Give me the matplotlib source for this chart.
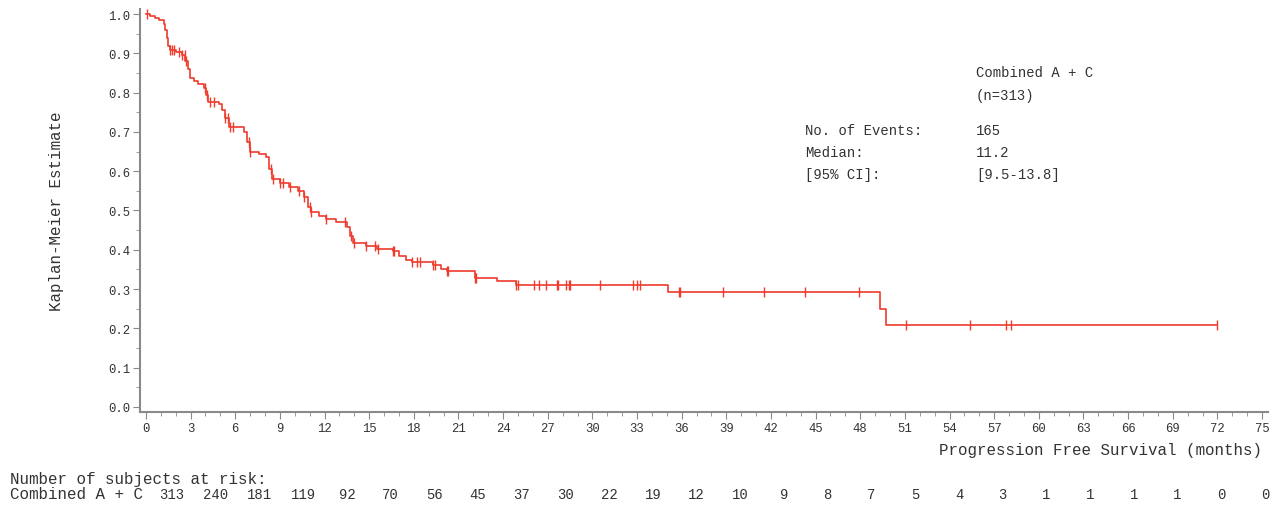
import numpy as np
import matplotlib
matplotlib.use('Agg')
import matplotlib.pyplot as plt
from matplotlib.ticker import MultipleLocator

# ── DATA ─────────────────────────────────────────────────────────────────
# KM step points: time (months) and survival after that time
step_t = [0.0, 0.3, 0.6, 0.9, 1.2, 1.3, 1.4, 1.5, 1.6, 2.0, 2.4, 2.65, 2.8, 2.95,
          3.2, 3.5, 3.9, 4.05, 4.2, 4.9, 5.1, 5.3, 5.6, 6.6, 6.8, 7.0, 7.6, 8.1,
          8.3, 8.5, 9.0, 9.6, 10.2, 10.6, 10.9, 11.1, 11.6, 12.1, 12.8, 13.5,
          13.7, 13.9, 14.8, 15.5, 16.6, 17.0, 17.5, 17.9, 19.3, 19.8, 20.2,
          22.1, 23.6, 24.9, 35.1, 49.3, 49.7]
step_s = [1.0, 0.995, 0.99, 0.985, 0.975, 0.96, 0.94, 0.92, 0.908, 0.903, 0.895,
          0.88, 0.86, 0.838, 0.83, 0.822, 0.812, 0.795, 0.776, 0.77, 0.755, 0.735,
          0.712, 0.70, 0.675, 0.648, 0.645, 0.635, 0.605, 0.58, 0.57, 0.56, 0.55,
          0.535, 0.51, 0.495, 0.487, 0.478, 0.47, 0.458, 0.435, 0.418, 0.41,
          0.402, 0.396, 0.385, 0.375, 0.368, 0.36, 0.35, 0.345, 0.327, 0.32,
          0.311, 0.292, 0.249, 0.209]
last_t = 71.95

censor_t = [0.05, 1.6, 1.75, 1.9, 2.2, 2.4, 2.6, 2.7, 4.0, 4.1, 4.3, 4.6, 5.3, 5.5,
            5.65, 5.85, 6.9, 7.0, 8.4, 8.55, 9.0, 9.2, 9.7, 10.3, 10.6, 11.0,
            11.1, 12.1, 13.4, 13.8, 13.95, 14.8, 15.4, 15.6, 16.6, 16.7, 17.9,
            18.2, 18.4, 19.3, 19.4, 20.2, 20.3, 22.1, 22.15, 24.9, 25.0, 26.1,
            26.4, 26.9, 27.6, 27.7, 28.2, 28.4, 28.5, 30.5, 32.7, 33.0, 33.2,
            35.8, 35.9, 38.75, 41.5, 44.3, 47.9, 51.1, 55.4, 57.8, 58.1, 71.95]

risk_times = list(range(0, 76, 3))
risk_n = [313, 240, 181, 119, 92, 70, 56, 45, 37, 30, 22, 19, 12, 10, 9, 8, 7,
          5, 4, 3, 1, 1, 1, 1, 0, 0]

# ── STYLE ────────────────────────────────────────────────────────────────
RED = '#ef3b2c'
TXT = '#333333'
SPINE = '#8a8a8a'
FONT = 'Liberation Mono'
plt.rcParams['font.family'] = [FONT, 'DejaVu Sans Mono']

W, H = 1280, 506
fig = plt.figure(figsize=(W / 100, H / 100), dpi=100)
fig.patch.set_facecolor('white')

def px(x, y):
    return x / W, 1 - y / H

ax = fig.add_axes([140 / W, 1 - 413 / H, (1268 - 140) / W, (413 - 10) / H])

# curve
t_plot = np.array(step_t + [last_t])
s_plot = np.array(step_s + [step_s[-1]])
ax.plot(t_plot, s_plot, drawstyle='steps-post', color=RED, lw=1.2)

# censor marks at the curve's value
idx = np.searchsorted(np.array(step_t), np.array(censor_t), side='right') - 1
censor_s = np.array(step_s)[idx]
ax.plot(censor_t, censor_s, ls='none', marker='|', ms=7.5, mew=1.0,
        color=RED)

ax.set_xlim(-0.4, 75.4)
ax.set_ylim(-0.013, 1.013)
ax.xaxis.set_major_locator(MultipleLocator(3))
ax.xaxis.set_minor_locator(MultipleLocator(1))
ax.yaxis.set_major_locator(MultipleLocator(0.1))
ax.yaxis.set_minor_locator(MultipleLocator(0.05))
ax.yaxis.set_major_formatter(plt.FuncFormatter(lambda v, p: f'{v:.1f}'))

for s in ['top', 'right']:
    ax.spines[s].set_visible(False)
for s in ['left', 'bottom']:
    ax.spines[s].set_color(SPINE)
    ax.spines[s].set_linewidth(1.5)
ax.tick_params(which='major', length=5, width=0.8, color=SPINE,
               labelcolor=TXT, labelsize=8.8)
ax.tick_params(which='minor', length=3, width=0.6, color=SPINE)
ax.tick_params(axis='y', pad=2)
ax.tick_params(axis='x', pad=2)

ax.set_ylabel('Kaplan-Meier Estimate', fontsize=11.4, color=TXT)
ax.yaxis.set_label_coords(-76 / 1128, 0.5)

fig.text(*px(1262, 451), 'Progression Free Survival (months)', fontsize=11.4,
         color=TXT, ha='right', va='center')

# stats box
fig.text(*px(976, 73), 'Combined A + C', fontsize=10, color=TXT, va='center')
fig.text(*px(976, 96), '(n=313)', fontsize=10, color=TXT, va='center')
labels = ['No. of Events:', 'Median:', '[95% CI]:']
values = ['165', '11.2', '[9.5-13.8]']
for i, (lab, val) in enumerate(zip(labels, values)):
    y = 131 + 22 * i
    fig.text(*px(805, y), lab, fontsize=10, color=TXT, va='center')
    fig.text(*px(976, y), val, fontsize=10, color=TXT, va='center')

# risk table
fig.text(*px(10, 480), 'Number of subjects at risk:', fontsize=11.4,
         color=TXT, va='center')
fig.text(*px(10, 495), 'Combined A + C', fontsize=11.4, color=TXT,
         va='center')
for t, n in zip(risk_times, risk_n):
    xp = 172 + (t / 3) * 43.72
    fig.text(xp / W, 1 - 495 / H, str(n), fontsize=10, color=TXT,
             ha='center', va='center')

fig.savefig('out.png', dpi=100, facecolor='white')
